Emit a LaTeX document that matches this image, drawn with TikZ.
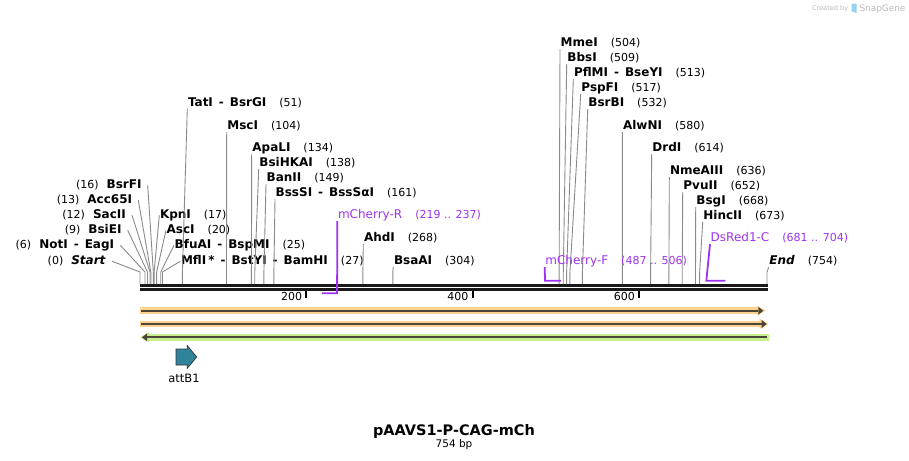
\documentclass[tikz,border=0pt]{standalone}
\usepackage{fontspec}
\setmainfont{DejaVu Sans}
\usepackage{tikz}
\usetikzlibrary{positioning,arrows.meta,calc}
\definecolor{primer}{RGB}{158,50,240}
\definecolor{cutgray}{RGB}{138,138,138}
\definecolor{featorange}{RGB}{253,210,140}
\definecolor{featgreen}{RGB}{198,240,142}
\definecolor{featdark}{RGB}{76,70,56}
\definecolor{attb}{RGB}{49,131,156}
\definecolor{wmgray}{RGB}{185,185,185}
\definecolor{logoblue}{RGB}{150,210,240}
\newcommand{\cx}[1]{140+#1*0.8316}
\newcommand{\cutpos}[1]{\hspace{13pt}{\fontsize{11}{13}\selectfont\mdseries\upshape(#1)}}
\newcommand{\cutposl}[1]{{\fontsize{11}{13}\selectfont\mdseries(#1)}\hspace{8pt}}
\newcommand{\esep}{\hspace{6pt}-\hspace{6pt}}

\begin{document}
\begin{tikzpicture}[x=1pt, y=-1pt,
    site/.style={anchor=base west, inner xsep=0.5pt, inner ysep=0pt, text height=9pt, text depth=2.5pt, font=\fontsize{12}{14}\selectfont\bfseries},
    lsite/.style={site, anchor=base east, inner xsep=6pt},
    plabel/.style={site, font=\fontsize{12}{14}\selectfont, text=primer},
    cut/.style={draw=cutgray, line width=0.9pt},
    oligo/.style={draw=primer, line width=1.8pt},
    ruler/.style={draw=black!90, line width=2.4pt},
    tickmark/.style={draw=black, line width=1.8pt},
    ticklbl/.style={anchor=base east, inner sep=0pt, font=\fontsize{11}{13}\selectfont},
    halo/.style={line width=6.5pt},
    core/.style={draw=featdark, line width=2pt}
]
\useasboundingbox (0,0) rectangle (909,460);

% sequence ruler
\coordinate (rtop) at (0,284);
\draw[ruler] (140,285.3) -- (768,285.3);
\draw[ruler] (140,289.4) -- (768,289.4);
\foreach \t in {200,400,600} {
  \draw[tickmark] (\cx{\t},290.5) -- (\cx{\t},297.5);
  \node[ticklbl] (tick\t) at (\cx{\t}-4,300.7) {\t};
}

% cut positions
\foreach \p in {0,6,9,12,13,16,17,20,25,27,51,104,134,138,149,161,268,304,504,509,513,517,532,580,614,636,652,668,673,754}
  \coordinate (k\p) at (\cx{\p},272);

% enzymes left of the cluster
\node[lsite] (nStart) at (112,264.5) {\cutposl{0}\textit{Start}};
\node[lsite] (nNotI) at (120.3,248.5) {\cutposl{6}NotI\esep EagI};
\node[lsite] (nBsiEI) at (127.7,233.5) {\cutposl{9}BsiEI};
\node[lsite] (nSacII) at (132,218.5) {\cutposl{12}SacII};
\node[lsite] (nAcc) at (138.3,203.5) {\cutposl{13}Acc65I};
\node[lsite] (nBsrFI) at (147.7,188.5) {\cutposl{16}BsrFI};

% enzymes right of the cluster
\node[site] (nKpnI) at (159.3,218.5) {KpnI\cutpos{17}};
\node[site] (nAscI) at (166,233.5) {AscI\cutpos{20}};
\node[site] (nBfuAI) at (174,248.5) {BfuAI\esep BspMI\cutpos{25}};
\node[site] (nMflI) at (180.3,264.5) {MflI\,*\esep BstYI\esep BamHI\cutpos{27}};

% other enzymes
\node[site] (nTatI) at (187.3,106) {TatI\esep BsrGI\cutpos{51}};
\node[site] (nMscI) at (226.7,129.5) {MscI\cutpos{104}};
\node[site] (nApaLI) at (251.7,151.5) {ApaLI\cutpos{134}};
\node[site] (nBsiHKAI) at (258.7,166.5) {BsiHKAI\cutpos{138}};
\node[site] (nBanII) at (266,181.5) {BanII\cutpos{149}};
\node[site] (nBssSI) at (275,196.5) {BssSI\esep BssSαI\cutpos{161}};
\node[site] (nAhdI) at (363.3,241.5) {AhdI\cutpos{268}};
\node[site] (nBsaAI) at (393.3,264.5) {BsaAI\cutpos{304}};
\node[site] (nMmeI) at (560,46.5) {MmeI\cutpos{504}};
\node[site] (nBbsI) at (566.7,61.5) {BbsI\cutpos{509}};
\node[site] (nPflMI) at (573.3,76.5) {PflMI\esep BseYI\cutpos{513}};
\node[site] (nPspFI) at (580.7,91.5) {PspFI\cutpos{517}};
\node[site] (nBsrBI) at (587.7,106.5) {BsrBI\cutpos{532}};
\node[site] (nAlwNI) at (622.3,129.5) {AlwNI\cutpos{580}};
\node[site] (nDrdI) at (651.7,151.5) {DrdI\cutpos{614}};
\node[site] (nNmeAIII) at (669.3,174.5) {NmeAIII\cutpos{636}};
\node[site] (nPvuII) at (682.7,189.5) {PvuII\cutpos{652}};
\node[site] (nBsgI) at (695.7,204.5) {BsgI\cutpos{668}};
\node[site] (nHincII) at (702.7,219.5) {HincII\cutpos{673}};
\node[site] (nEnd) at (768.7,264.5) {\textit{End}\cutpos{754}};

\draw[cut] (nStart.east) -- (k0) -- (k0 |- rtop);
\draw[cut] (nNotI.east) -- (k6) -- (k6 |- rtop);
\draw[cut] (nBsiEI.east) -- (k9) -- (k9 |- rtop);
\draw[cut] (nSacII.east) -- (k12) -- (k12 |- rtop);
\draw[cut] (nAcc.east) -- (k13) -- (k13 |- rtop);
\draw[cut] (nBsrFI.east) -- (k16) -- (k16 |- rtop);
\draw[cut] (nKpnI.west) -- (k17) -- (k17 |- rtop);
\draw[cut] (nAscI.west) -- (k20) -- (k20 |- rtop);
\draw[cut] (nBfuAI.west) -- (k25) -- (k25 |- rtop);
\draw[cut] (nMflI.west) -- (k27) -- (k27 |- rtop);
\draw[cut] (nTatI.south west) -- (k51) -- (k51 |- rtop);
\draw[cut] (nMscI.south west) -- (k104) -- (k104 |- rtop);
\draw[cut] (nApaLI.south west) -- (k134) -- (k134 |- rtop);
\draw[cut] (nBsiHKAI.south west) -- (k138) -- (k138 |- rtop);
\draw[cut] (nBanII.south west) -- (k149) -- (k149 |- rtop);
\draw[cut] (nBssSI.south west) -- (k161) -- (k161 |- rtop);
\draw[cut] (nAhdI.south west) -- (k268) -- (k268 |- rtop);
\draw[cut] (nBsaAI.south west) -- (k304) -- (k304 |- rtop);
\draw[cut] (nMmeI.south west) -- (k504) -- (k504 |- rtop);
\draw[cut] (nBbsI.south west) -- (k509) -- (k509 |- rtop);
\draw[cut] (nPflMI.south west) -- (k513) -- (k513 |- rtop);
\draw[cut] (nPspFI.south west) -- (k517) -- (k517 |- rtop);
\draw[cut] (nBsrBI.south west) -- (k532) -- (k532 |- rtop);
\draw[cut] (nAlwNI.south west) -- (k580) -- (k580 |- rtop);
\draw[cut] (nDrdI.south west) -- (k614) -- (k614 |- rtop);
\draw[cut] (nNmeAIII.south west) -- (k636) -- (k636 |- rtop);
\draw[cut] (nPvuII.south west) -- (k652) -- (k652 |- rtop);
\draw[cut] (nBsgI.south west) -- (k668) -- (k668 |- rtop);
\draw[cut] (nHincII.south west) -- (k673) -- (k673 |- rtop);
\draw[cut] (nEnd.south west) -- (k754) -- (k754 |- rtop);

% primers
\node[plabel] (pR) at (337.3,218.5) {mCherry-R\cutpos{219 .. 237}};
\node[plabel] (pF) at (544.7,264.5) {mCherry-F\cutpos{487 .. 506}};
\node[plabel] (pD) at (710,241.5) {DsRed1-C\cutpos{681 .. 704}};
\coordinate (r1) at (\cx{219},293.3);
\coordinate (r2) at (\cx{237},293.3);
\coordinate (f1) at (\cx{487},280.7);
\coordinate (f2) at (\cx{506},280.7);
\coordinate (d1) at (\cx{681},280.7);
\coordinate (d2) at (\cx{704},280.7);
\draw[oligo] (pR.south west) -- (r2) -- (r1);
\draw[oligo] (pF.south west) -- (f1) -- (f2);
\draw[oligo] (pD.south west) -- (d1) -- (d2);

% features
\draw[featorange, halo, -{Triangle[length=9pt,width=10pt,line width=0pt]}] (140,310.7) -- (765.7,310.7);
\draw[core, -{Triangle[length=5pt,width=8pt,line width=0pt]}] (141,310.7) -- (763.3,310.7);
\draw[featorange, halo, -{Triangle[length=9pt,width=10pt,line width=0pt]}] (140,324) -- (768.7,324);
\draw[core, -{Triangle[length=5pt,width=8pt,line width=0pt]}] (141,324) -- (766.7,324);
\draw[featgreen, halo, -{Triangle[length=9pt,width=10pt,line width=0pt]}] (768.7,337.3) -- (140,337.3);
\draw[core, -{Triangle[length=5pt,width=8pt,line width=0pt]}] (766.7,337.3) -- (142,337.3);

\draw[fill=attb, draw=black!80, line width=0.7pt] (176,349) -- (187.3,349) -- (187.3,345.7) -- (196.7,357) -- (187.3,368.3) -- (187.3,365) -- (176,365) -- cycle;
\node[anchor=base, inner sep=0pt, font=\fontsize{11.5}{13}\selectfont] (attB1) at (184,382.7) {attB1};

% title
\node[anchor=base, inner sep=0pt, font=\fontsize{14.5}{17}\selectfont\bfseries] (title) at (454,435) {pAAVS1-P-CAG-mCh};
\node[anchor=base, inner sep=0pt, font=\fontsize{10.5}{12}\selectfont] (size) at (454,447) {754 bp};

% watermark
\node[anchor=base east, inner sep=0pt, text=wmgray, font=\fontsize{6.6}{8}\selectfont] (made) at (848.5,10.7) {Created by};
\fill[logoblue] (851.5,4) -- (856.5,3.5) -- (856.5,13) -- (851.5,11.5) -- cycle;
\node[anchor=base west, inner sep=0pt, text=wmgray, font=\fontsize{8.9}{10}\selectfont] (snap) at (859.3,11.3) {SnapGene};
\end{tikzpicture}
\end{document}
